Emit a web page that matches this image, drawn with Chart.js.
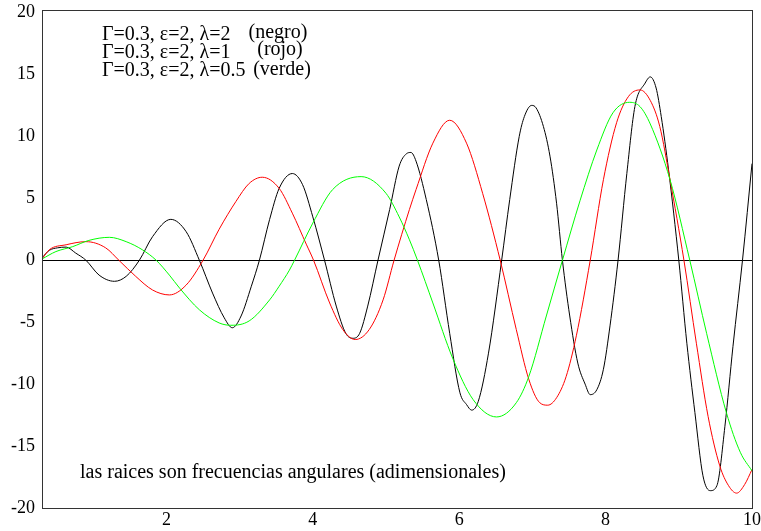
<!DOCTYPE html>
<html>
<head>
<meta charset="utf-8">
<script src="https://cdn.jsdelivr.net/npm/chart.js@4.4.1/dist/chart.umd.min.js"></script>
<style>
  html, body { margin: 0; padding: 0; background: #fff; }
</style>
</head>
<body>
<canvas id="chart" width="761" height="531"></canvas>
<script>
// curves (x = frequency, y = value)
const blackX = [0.30, 0.40, 0.51, 0.63, 0.76, 0.90, 1.08, 1.29, 1.45, 1.63, 1.81, 2.06, 2.27, 2.45, 2.63, 2.79, 2.90, 3.02, 3.16, 3.27, 3.41, 3.54, 3.72, 3.86, 4.00, 4.16, 4.32, 4.45, 4.55, 4.64, 4.75, 4.89, 5.05, 5.18, 5.28, 5.34, 5.41, 5.55, 5.72, 5.87, 6.01, 6.10, 6.17, 6.26, 6.40, 6.58, 6.69, 6.82, 6.89, 6.99, 7.05, 7.15, 7.24, 7.33, 7.41, 7.51, 7.62, 7.72, 7.79, 7.88, 7.97, 8.06, 8.17, 8.29, 8.40, 8.54, 8.61, 8.69, 8.76, 8.86, 9.00, 9.11, 9.22, 9.33, 9.43, 9.52, 9.63, 9.74, 9.87, 10.0];
const blackY = [0.2, 0.8, 1.0, 1.06, 0.58, 0, -1.2, -1.7, -1.3, 0, 1.9, 3.3, 2.3, 0, -2.65, -4.65, -5.45, -4.5, -2.1, 0, 3.3, 5.8, 7.0, 6.1, 3.5, 0, -3.7, -5.9, -6.3, -5.9, -3.7, 0, 4.1, 7.6, 8.6, 8.7, 8.0, 4.9, 0, -5.9, -10.7, -11.65, -12.1, -11.4, -7.5, 0, 4.9, 10.0, 11.6, 12.5, 12.3, 10.8, 8.4, 4.6, 0, -4.5, -8.3, -10.0, -10.85, -10.45, -8.8, -5.3, 0, 7.0, 12.4, 14.3, 14.8, 13.9, 11.6, 7.3, 0, -6.7, -12.3, -17.4, -18.6, -18.2, -13.4, -6.95, 0, 7.8];

const redX = [0.30, 0.40, 0.63, 0.90, 1.17, 1.35, 1.58, 1.81, 2.04, 2.27, 2.50, 2.72, 2.95, 3.13, 3.31, 3.54, 3.72, 3.91, 4.01, 4.23, 4.41, 4.58, 4.77, 4.96, 5.11, 5.32, 5.41, 5.64, 5.87, 6.10, 6.32, 6.56, 6.78, 6.95, 7.10, 7.21, 7.33, 7.46, 7.60, 7.79, 7.97, 8.15, 8.31, 8.47, 8.61, 8.74, 8.88, 9.07, 9.24, 9.40, 9.56, 9.68, 9.79, 9.90, 10.0];
const redY = [0.1, 0.85, 1.25, 1.5, 1.0, 0, -1.3, -2.4, -2.8, -2.0, 0, 2.5, 4.75, 6.2, 6.7, 5.8, 3.8, 1.3, 0, -3.45, -5.6, -6.4, -5.6, -3.2, 0, 4.1, 5.7, 9.45, 11.3, 9.45, 5.4, 0, -5.6, -9.6, -11.5, -11.7, -11.1, -9.4, -6.1, 0, 6.5, 11.1, 13.2, 13.75, 12.9, 10.8, 6.5, 0, -6.7, -12.6, -16.6, -18.2, -18.8, -18.1, -16.9];

const greenX = [0.30, 0.49, 0.72, 0.94, 1.22, 1.45, 1.67, 1.86, 2.04, 2.18, 2.45, 2.72, 2.88, 3.13, 3.41, 3.54, 3.68, 3.75, 4.00, 4.27, 4.66, 5.00, 5.18, 5.32, 5.43, 5.64, 5.91, 6.19, 6.51, 6.78, 6.95, 7.19, 7.41, 7.65, 7.88, 8.10, 8.33, 8.47, 8.61, 8.88, 9.15, 9.38, 9.65, 9.84, 10.0];
const greenY = [0.1, 0.7, 1.1, 1.6, 1.85, 1.5, 0.85, 0, -1.2, -2.25, -4.0, -5.06, -5.25, -4.9, -3.2, -2.1, -0.8, 0, 3.0, 5.7, 6.75, 5.4, 3.5, 1.65, 0, -3.45, -7.9, -11.25, -12.65, -11.5, -9.4, -4.5, 0, 4.8, 8.9, 11.9, 12.75, 12.4, 11.0, 6.5, 0, -5.9, -12.3, -15.5, -17.0];

const xTicks = [2, 4, 6, 8, 10];
const yTicks = [-20, -15, -10, -5, 0, 5, 10, 15, 20];

const legendLines = ['\u0393=0.3, \u03b5=2, \u03bb=2', '\u0393=0.3, \u03b5=2, \u03bb=1', '\u0393=0.3, \u03b5=2, \u03bb=0.5'];
const legendTags = ['(negro)', '(rojo)', '(verde)'];
const footnote = 'las raices son frecuencias angulares (adimensionales)';

const serif = "'Liberation Serif', 'DejaVu Serif', serif";

function pts(xs, ys) {
  return xs.map((x, i) => ({ x: x, y: ys[i] }));
}

// frame round the plot + the text notes
const decorations = {
  id: 'decorations',
  afterDraw(chart) {
    const ctx = chart.ctx;
    const a = chart.chartArea;
    ctx.save();
    ctx.strokeStyle = '#333';
    ctx.lineWidth = 1;
    ctx.strokeRect(Math.round(a.left) + 0.5, Math.round(a.top) + 0.5,
                   Math.round(a.right - a.left), Math.round(a.bottom - a.top));

    ctx.fillStyle = '#000';
    ctx.font = '20px ' + serif;
    ctx.textBaseline = 'middle';
    ctx.textAlign = 'left';
    const rows = [35, 53, 71];
    legendLines.forEach((t, i) => ctx.fillText(t, 102, rows[i]));
    ctx.textAlign = 'center';
    const tagRows = [33, 50, 70];
    const tagX = [278, 280, 282];
    legendTags.forEach((t, i) => ctx.fillText(t, tagX[i], tagRows[i]));

    ctx.textAlign = 'left';
    ctx.fillText(footnote, 80, 473);
    ctx.restore();
  }
};

new Chart(document.getElementById('chart'), {
  type: 'line',
  data: {
    datasets: [
      { data: pts(greenX, greenY), borderColor: '#00ff00' },
      { data: pts(redX, redY), borderColor: '#ff0000' },
      { data: pts(blackX, blackY), borderColor: '#000000' }
    ].map(d => Object.assign(d, {
      borderWidth: 1,
      pointRadius: 0,
      fill: false,
      cubicInterpolationMode: 'monotone'
    }))
  },
  options: {
    responsive: false,
    animation: false,
    events: [],
    layout: { padding: { top: 10, right: 9, left: 0, bottom: 0 } },
    plugins: { legend: { display: false }, tooltip: { enabled: false } },
    scales: {
      x: {
        type: 'linear',
        min: 0.3,
        max: 10,
        afterBuildTicks: s => { s.ticks = xTicks.map(v => ({ value: v })); },
        afterFit: s => { s.height = 23; s.paddingLeft = 0; s.paddingRight = 0; },
        grid: { display: false, drawTicks: false },
        border: { display: false },
        ticks: { color: '#000', padding: 1, maxRotation: 0, font: { family: serif, size: 18 } }
      },
      y: {
        type: 'linear',
        min: -20,
        max: 20.2,
        afterBuildTicks: s => { s.ticks = yTicks.map(v => ({ value: v })); },
        afterFit: s => { s.width = 42; s.paddingTop = 0; s.paddingBottom = 0; },
        grid: {
          drawTicks: false,
          color: c => (c.tick && c.tick.value === 0 ? '#000' : 'rgba(0,0,0,0)')
        },
        border: { display: false },
        ticks: { color: '#000', padding: 7, font: { family: serif, size: 18 } }
      }
    }
  },
  plugins: [decorations]
});
</script>
</body>
</html>
